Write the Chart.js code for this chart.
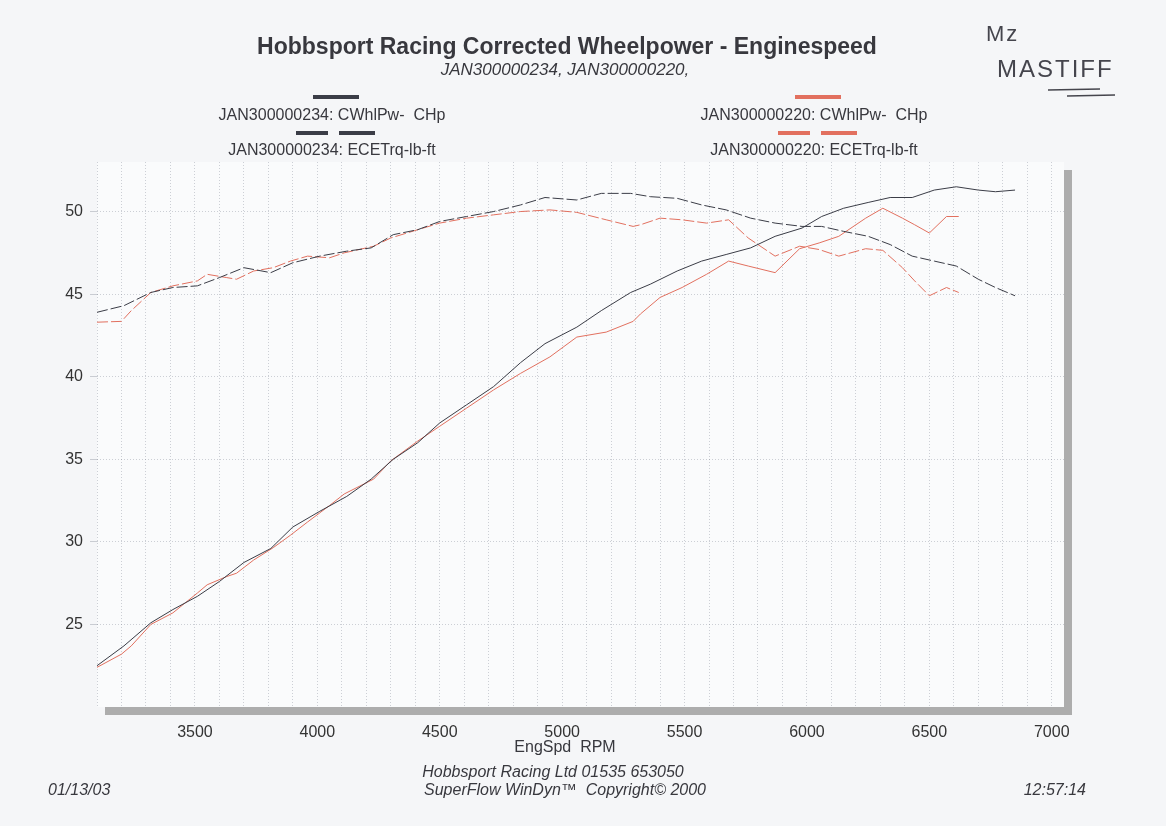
<!DOCTYPE html>
<html>
<head>
<meta charset="utf-8">
<script src="https://cdn.jsdelivr.net/npm/chart.js@4.4.1/dist/chart.umd.min.js"></script>
<style>
  html, body { margin: 0; padding: 0; background: #f5f6f8; }
  canvas { display: block; }
</style>
</head>
<body>
<canvas id="chart" width="1166" height="826"></canvas>
<script>
// run JAN300000234 (dark)
const rpm234 = [3100, 3210, 3320, 3410, 3510, 3600, 3700, 3810, 3900, 4010, 4120, 4220, 4310, 4410, 4500,
  4610, 4720, 4830, 4930, 5060, 5160, 5280, 5360, 5470, 5570, 5670, 5770, 5870, 5980, 6060, 6150,
  6250, 6340, 6430, 6520, 6610, 6700, 6770, 6850]
const power234 = [22.5, 23.7, 25.1, 25.9, 26.7, 27.6, 28.75, 29.6, 30.9, 31.85, 32.75, 33.8, 35.0, 36.0, 37.2,
  38.3, 39.4, 40.85, 42.0, 43.0, 44.0, 45.1, 45.6, 46.4, 47.0, 47.4, 47.8, 48.5, 49.0, 49.7, 50.2,
  50.55, 50.85, 50.85, 51.3, 51.5, 51.3, 51.2, 51.3]
const torque234 = [43.9, 44.3, 45.1, 45.4, 45.5, 46.0, 46.6, 46.3, 46.9, 47.3, 47.6, 47.8, 48.6, 48.9, 49.4,
  49.7, 50.0, 50.4, 50.85, 50.7, 51.1, 51.1, 50.9, 50.8, 50.4, 50.1, 49.6, 49.3, 49.1, 49.1, 48.8,
  48.5, 48.0, 47.3, 47.0, 46.7, 45.9, 45.4, 44.9]

// run JAN300000220 (red)
const rpm220 = [3100, 3200, 3240, 3320, 3410, 3510, 3550, 3630, 3670, 3740, 3820, 3890, 3960, 4050, 4110,
  4230, 4300, 4410, 4500, 4610, 4720, 4830, 4950, 5060, 5180, 5290, 5320, 5400, 5490, 5590, 5680,
  5760, 5870, 5970, 6050, 6130, 6240, 6310, 6390, 6440, 6500, 6570, 6620]
const power220 = [22.4, 23.2, 23.7, 25.0, 25.7, 26.9, 27.4, 27.9, 28.1, 28.9, 29.65, 30.4, 31.2, 32.2, 32.9,
  33.8, 34.9, 36.1, 37.0, 38.1, 39.2, 40.2, 41.2, 42.4, 42.7, 43.35, 43.8, 44.8, 45.4, 46.2, 47.0,
  46.7, 46.3, 47.75, 48.1, 48.5, 49.6, 50.2, 49.6, 49.2, 48.7, 49.7, 49.7]
const torque220 = [43.3, 43.35, 44.0, 45.1, 45.5, 45.8, 46.2, 46.0, 45.9, 46.4, 46.6, 47.0, 47.3, 47.2, 47.5,
  47.9, 48.4, 48.9, 49.3, 49.6, 49.8, 50.0, 50.1, 49.95, 49.5, 49.1, 49.2, 49.6, 49.5, 49.3, 49.5,
  48.4, 47.3, 47.9, 47.7, 47.3, 47.75, 47.65, 46.6, 45.8, 44.9, 45.4, 45.1]

const runNames = ['JAN300000234', 'JAN300000220']
const channelNames = ['CWhlPw-  CHp', 'ECETrq-lb-ft']
const runColors = ['#3b3d47', '#e2705f']
const xTickLabels = [3500, 4000, 4500, 5000, 5500, 6000, 6500, 7000]
const yTickLabels = [25, 30, 35, 40, 45, 50]

const FONT = "'Liberation Sans', Arial, sans-serif"
const torqueDash = [11, 3]

const toPoints = (xs, ys) => xs.map((x, i) => ({ x, y: ys[i] }))

const datasets = [
  { run: 0, ch: 0, data: toPoints(rpm234, power234) },
  { run: 0, ch: 1, data: toPoints(rpm234, torque234) },
  { run: 1, ch: 0, data: toPoints(rpm220, power220) },
  { run: 1, ch: 1, data: toPoints(rpm220, torque220) }
].map(d => ({
  label: runNames[d.run] + ': ' + channelNames[d.ch],
  data: d.data,
  borderColor: runColors[d.run],
  borderWidth: 1,
  borderDash: d.ch === 1 ? torqueDash : [],
  pointRadius: 0,
  tension: 0,
  run: d.run,
  ch: d.ch
}))

// 100 rpm grid like the dyno printout
const rpmGrid = []
for (let v = 3100; v <= 7000; v += 100) rpmGrid.push(v)

const paper = {
  id: 'paper',
  beforeDraw (chart) {
    const { ctx, chartArea: a } = chart
    ctx.save()
    ctx.fillStyle = '#f5f6f8'
    ctx.fillRect(0, 0, chart.width, chart.height)
    ctx.fillStyle = '#fafbfc'
    ctx.fillRect(a.left, a.top, a.right - a.left, a.bottom - a.top)
    // frame shadow
    ctx.fillStyle = '#adadad'
    ctx.fillRect(a.right, a.top + 8, 8, a.bottom - a.top)
    ctx.fillRect(a.left + 8, a.bottom, a.right - a.left, 8)
    ctx.restore()
  }
}

const text = (ctx, str, x, y, font, align = 'center') => {
  ctx.font = font
  ctx.textAlign = align
  ctx.textBaseline = 'middle'
  ctx.fillText(str, x, y)
}

const printout = {
  id: 'printout',
  afterDraw (chart) {
    const { ctx } = chart
    ctx.save()
    ctx.fillStyle = '#38383e'
    text(ctx, 'Hobbsport Racing Corrected Wheelpower - Enginespeed', 567, 48, 'bold 23px ' + FONT)
    text(ctx, runNames.join(', ') + ',', 565, 70, 'italic 17px ' + FONT)

    // legend: one column per run, power on top, torque below
    const colX = [336, 818]
    chart.data.datasets.forEach(ds => {
      const cx = colX[ds.run]
      const barY = ds.ch === 0 ? 97 : 133
      const textY = ds.ch === 0 ? 116 : 151
      ctx.fillStyle = ds.borderColor
      if (ds.ch === 0) {
        ctx.fillRect(cx - 23, barY - 2, 46, 4)
      } else {
        ctx.fillRect(cx - 40, barY - 2, 32, 4)
        ctx.fillRect(cx + 3, barY - 2, 36, 4)
      }
      ctx.fillStyle = '#38383e'
      text(ctx, ds.label, cx - 4, textY, '16px ' + FONT)
    })

    text(ctx, 'EngSpd  RPM', 565, 748, '16px ' + FONT)
    text(ctx, 'Hobbsport Racing Ltd 01535 653050', 553, 773, 'italic 16px ' + FONT)
    text(ctx, 'SuperFlow WinDyn\u2122  Copyright\u00a9 2000', 565, 791, 'italic 16px ' + FONT)
    text(ctx, '01/13/03', 48, 791, 'italic 16px ' + FONT, 'left')
    text(ctx, '12:57:14', 1086, 791, 'italic 16px ' + FONT, 'right')

    // handwritten note
    ctx.fillStyle = '#45454d'
    ctx.letterSpacing = '2px'
    text(ctx, 'Mz', 986, 35, '22px ' + FONT, 'left')
    text(ctx, 'MASTIFF', 997, 70, '24px ' + FONT, 'left')
    ctx.letterSpacing = '0px'
    ctx.strokeStyle = '#45454d'
    ctx.lineWidth = 1.5
    ctx.beginPath()
    ctx.moveTo(1048, 90); ctx.lineTo(1100, 89)
    ctx.moveTo(1067, 96); ctx.lineTo(1115, 95)
    ctx.stroke()
    ctx.restore()
  }
}

const gridColor = 'rgba(110,115,130,0.32)'

new Chart(document.getElementById('chart'), {
  type: 'line',
  data: { datasets },
  options: {
    responsive: false,
    animation: false,
    devicePixelRatio: 1,
    layout: { padding: { top: 162, right: 102, bottom: 0, left: 0 } },
    plugins: { legend: { display: false }, tooltip: { enabled: false } },
    scales: {
      x: {
        type: 'linear',
        min: 3100,
        max: 7050,
        afterFit: s => { s.height = 119 },
        afterBuildTicks: s => { s.ticks = rpmGrid.map(value => ({ value })) },
        grid: { color: gridColor, drawTicks: false },
        border: { display: false, dash: [1, 2] },
        ticks: {
          autoSkip: false,
          maxRotation: 0,
          padding: 16,
          color: '#333',
          font: { family: FONT, size: 16 },
          callback: v => xTickLabels.includes(v) ? String(v) : ''
        }
      },
      y: {
        min: 20,
        max: 53,
        afterFit: s => { s.width = 97 },
        afterBuildTicks: s => { s.ticks = yTickLabels.map(value => ({ value })) },
        grid: { color: gridColor, tickLength: 7 },
        border: { display: false, dash: [1, 2] },
        ticks: {
          padding: 7,
          color: '#333',
          font: { family: FONT, size: 16 }
        }
      }
    }
  },
  plugins: [paper, printout]
})
</script>
</body>
</html>
